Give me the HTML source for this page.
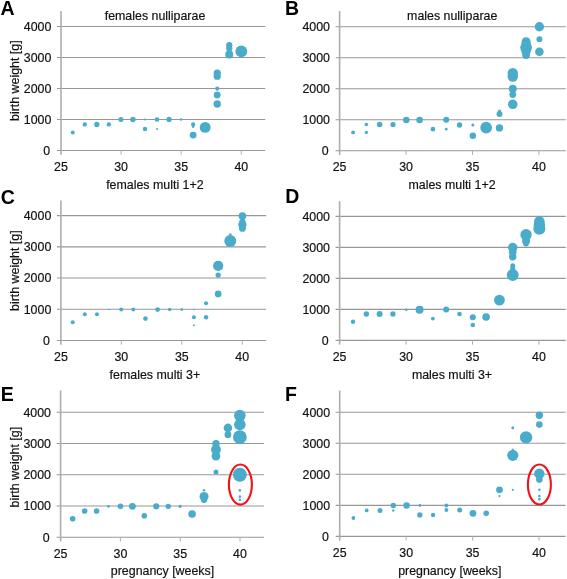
<!DOCTYPE html>
<html><head><meta charset="utf-8"><style>
html,body{margin:0;padding:0;background:#fff;width:567px;height:579px;overflow:hidden}
svg{display:block;will-change:transform}
.t{font-family:"Liberation Sans", sans-serif;font-size:12.4px;fill:#111;stroke:#111;stroke-width:0.18px}
.L{font-family:"Liberation Sans", sans-serif;font-size:19.5px;font-weight:bold;fill:#000}
</style></head><body>
<svg width="567" height="579" viewBox="0 0 567 579">
<rect width="100%" height="100%" fill="#fff"/>
<line x1="57.00" y1="150.45" x2="265.30" y2="150.45" stroke="#979797" stroke-width="1.1"/>
<line x1="57.00" y1="119.45" x2="265.30" y2="119.45" stroke="#979797" stroke-width="1.1"/>
<line x1="57.00" y1="88.45" x2="265.30" y2="88.45" stroke="#979797" stroke-width="1.1"/>
<line x1="57.00" y1="57.45" x2="265.30" y2="57.45" stroke="#979797" stroke-width="1.1"/>
<line x1="57.00" y1="26.45" x2="265.30" y2="26.45" stroke="#979797" stroke-width="1.1"/>
<line x1="61.00" y1="11.00" x2="61.00" y2="154.65" stroke="#adadad" stroke-width="1.6"/>
<line x1="121.10" y1="150.45" x2="121.10" y2="154.65" stroke="#b0b0b0" stroke-width="1"/>
<line x1="181.20" y1="150.45" x2="181.20" y2="154.65" stroke="#b0b0b0" stroke-width="1"/>
<line x1="241.30" y1="150.45" x2="241.30" y2="154.65" stroke="#b0b0b0" stroke-width="1"/>
<text x="50.10" y="154.75" text-anchor="end" class="t">0</text>
<text x="51.40" y="123.75" text-anchor="end" class="t">1000</text>
<text x="51.40" y="92.75" text-anchor="end" class="t">2000</text>
<text x="51.40" y="61.75" text-anchor="end" class="t">3000</text>
<text x="51.40" y="30.75" text-anchor="end" class="t">4000</text>
<text x="61.00" y="170.95" text-anchor="middle" class="t">25</text>
<text x="121.10" y="170.95" text-anchor="middle" class="t">30</text>
<text x="181.20" y="170.95" text-anchor="middle" class="t">35</text>
<text x="241.30" y="170.95" text-anchor="middle" class="t">40</text>
<text x="155.00" y="20.00" text-anchor="middle" class="t">females nulliparae</text>
<text x="0.46" y="14.70" class="L">A</text>
<circle cx="72.74" cy="132.47" r="2.00" fill="#4aabcb"/>
<circle cx="84.78" cy="124.41" r="2.20" fill="#4aabcb"/>
<circle cx="96.82" cy="124.41" r="2.60" fill="#4aabcb"/>
<circle cx="108.86" cy="124.41" r="2.20" fill="#4aabcb"/>
<circle cx="120.90" cy="119.45" r="2.50" fill="#4aabcb"/>
<circle cx="132.94" cy="119.45" r="2.70" fill="#4aabcb"/>
<circle cx="144.98" cy="119.45" r="1.00" fill="#4aabcb"/>
<circle cx="144.98" cy="129.06" r="2.20" fill="#4aabcb"/>
<circle cx="157.02" cy="119.45" r="2.30" fill="#4aabcb"/>
<circle cx="157.02" cy="129.06" r="1.00" fill="#4aabcb"/>
<circle cx="169.06" cy="119.45" r="2.60" fill="#4aabcb"/>
<circle cx="181.10" cy="119.45" r="1.30" fill="#4aabcb"/>
<circle cx="193.14" cy="124.41" r="2.15" fill="#4aabcb"/>
<circle cx="193.14" cy="126.73" r="1.20" fill="#4aabcb"/>
<circle cx="193.14" cy="135.10" r="3.45" fill="#4aabcb"/>
<circle cx="205.18" cy="127.39" r="5.45" fill="#4aabcb"/>
<circle cx="217.22" cy="73.01" r="3.60" fill="#4aabcb"/>
<circle cx="217.22" cy="76.17" r="3.60" fill="#4aabcb"/>
<circle cx="217.22" cy="88.60" r="2.10" fill="#4aabcb"/>
<circle cx="217.22" cy="94.99" r="3.40" fill="#4aabcb"/>
<circle cx="217.22" cy="104.01" r="3.70" fill="#4aabcb"/>
<circle cx="229.26" cy="45.20" r="3.10" fill="#4aabcb"/>
<circle cx="229.26" cy="48.46" r="3.10" fill="#4aabcb"/>
<circle cx="229.26" cy="54.60" r="4.00" fill="#4aabcb"/>
<circle cx="241.30" cy="51.40" r="5.90" fill="#4aabcb"/>
<line x1="335.60" y1="150.70" x2="565.80" y2="150.70" stroke="#979797" stroke-width="1.1"/>
<line x1="335.60" y1="119.70" x2="565.80" y2="119.70" stroke="#979797" stroke-width="1.1"/>
<line x1="335.60" y1="88.70" x2="565.80" y2="88.70" stroke="#979797" stroke-width="1.1"/>
<line x1="335.60" y1="57.70" x2="565.80" y2="57.70" stroke="#979797" stroke-width="1.1"/>
<line x1="335.60" y1="26.70" x2="565.80" y2="26.70" stroke="#979797" stroke-width="1.1"/>
<line x1="339.60" y1="11.00" x2="339.60" y2="154.90" stroke="#adadad" stroke-width="1.6"/>
<line x1="406.05" y1="150.70" x2="406.05" y2="154.90" stroke="#b0b0b0" stroke-width="1"/>
<line x1="472.50" y1="150.70" x2="472.50" y2="154.90" stroke="#b0b0b0" stroke-width="1"/>
<line x1="538.95" y1="150.70" x2="538.95" y2="154.90" stroke="#b0b0b0" stroke-width="1"/>
<text x="328.70" y="155.00" text-anchor="end" class="t">0</text>
<text x="330.00" y="124.00" text-anchor="end" class="t">1000</text>
<text x="330.00" y="93.00" text-anchor="end" class="t">2000</text>
<text x="330.00" y="62.00" text-anchor="end" class="t">3000</text>
<text x="330.00" y="31.00" text-anchor="end" class="t">4000</text>
<text x="339.60" y="171.20" text-anchor="middle" class="t">25</text>
<text x="406.05" y="171.20" text-anchor="middle" class="t">30</text>
<text x="472.50" y="171.20" text-anchor="middle" class="t">35</text>
<text x="538.95" y="171.20" text-anchor="middle" class="t">40</text>
<text x="452.20" y="20.00" text-anchor="middle" class="t">males nulliparae</text>
<text x="285.00" y="14.70" class="L">B</text>
<circle cx="353.06" cy="132.41" r="1.90" fill="#4aabcb"/>
<circle cx="366.37" cy="124.50" r="1.80" fill="#4aabcb"/>
<circle cx="366.37" cy="132.41" r="1.60" fill="#4aabcb"/>
<circle cx="379.68" cy="124.50" r="2.80" fill="#4aabcb"/>
<circle cx="392.99" cy="124.50" r="2.60" fill="#4aabcb"/>
<circle cx="406.30" cy="120.01" r="3.20" fill="#4aabcb"/>
<circle cx="419.61" cy="120.01" r="3.30" fill="#4aabcb"/>
<circle cx="432.92" cy="129.16" r="2.30" fill="#4aabcb"/>
<circle cx="446.23" cy="119.85" r="3.00" fill="#4aabcb"/>
<circle cx="446.23" cy="129.16" r="1.40" fill="#4aabcb"/>
<circle cx="459.54" cy="124.97" r="2.70" fill="#4aabcb"/>
<circle cx="472.85" cy="124.97" r="1.50" fill="#4aabcb"/>
<circle cx="472.85" cy="135.82" r="3.20" fill="#4aabcb"/>
<circle cx="486.16" cy="127.67" r="5.85" fill="#4aabcb"/>
<circle cx="499.47" cy="127.91" r="3.70" fill="#4aabcb"/>
<circle cx="499.47" cy="114.12" r="3.00" fill="#4aabcb"/>
<circle cx="499.47" cy="111.02" r="1.50" fill="#4aabcb"/>
<circle cx="512.78" cy="104.29" r="4.80" fill="#4aabcb"/>
<circle cx="512.78" cy="94.59" r="3.40" fill="#4aabcb"/>
<circle cx="512.78" cy="88.70" r="4.00" fill="#4aabcb"/>
<circle cx="512.78" cy="76.61" r="5.20" fill="#4aabcb"/>
<circle cx="512.78" cy="73.20" r="5.20" fill="#4aabcb"/>
<circle cx="526.09" cy="41.80" r="4.50" fill="#4aabcb"/>
<circle cx="526.09" cy="44.68" r="4.80" fill="#4aabcb"/>
<circle cx="526.09" cy="47.59" r="5.85" fill="#4aabcb"/>
<circle cx="526.09" cy="51.50" r="4.60" fill="#4aabcb"/>
<circle cx="526.09" cy="55.19" r="3.80" fill="#4aabcb"/>
<circle cx="539.40" cy="26.76" r="4.65" fill="#4aabcb"/>
<circle cx="539.40" cy="39.16" r="2.95" fill="#4aabcb"/>
<circle cx="539.40" cy="51.69" r="4.30" fill="#4aabcb"/>
<line x1="56.90" y1="340.45" x2="266.10" y2="340.45" stroke="#979797" stroke-width="1.1"/>
<line x1="56.90" y1="309.25" x2="266.10" y2="309.25" stroke="#979797" stroke-width="1.1"/>
<line x1="56.90" y1="278.05" x2="266.10" y2="278.05" stroke="#979797" stroke-width="1.1"/>
<line x1="56.90" y1="246.85" x2="266.10" y2="246.85" stroke="#979797" stroke-width="1.1"/>
<line x1="56.90" y1="215.65" x2="266.10" y2="215.65" stroke="#979797" stroke-width="1.1"/>
<line x1="60.90" y1="200.50" x2="60.90" y2="344.65" stroke="#adadad" stroke-width="1.6"/>
<line x1="121.35" y1="340.45" x2="121.35" y2="344.65" stroke="#b0b0b0" stroke-width="1"/>
<line x1="181.80" y1="340.45" x2="181.80" y2="344.65" stroke="#b0b0b0" stroke-width="1"/>
<line x1="242.25" y1="340.45" x2="242.25" y2="344.65" stroke="#b0b0b0" stroke-width="1"/>
<text x="50.00" y="344.75" text-anchor="end" class="t">0</text>
<text x="51.30" y="313.55" text-anchor="end" class="t">1000</text>
<text x="51.30" y="282.35" text-anchor="end" class="t">2000</text>
<text x="51.30" y="251.15" text-anchor="end" class="t">3000</text>
<text x="51.30" y="219.95" text-anchor="end" class="t">4000</text>
<text x="60.90" y="360.95" text-anchor="middle" class="t">25</text>
<text x="121.35" y="360.95" text-anchor="middle" class="t">30</text>
<text x="181.80" y="360.95" text-anchor="middle" class="t">35</text>
<text x="242.25" y="360.95" text-anchor="middle" class="t">40</text>
<text x="154.90" y="189.00" text-anchor="middle" class="t">females multi 1+2</text>
<text x="0.80" y="203.50" class="L">C</text>
<circle cx="72.72" cy="322.20" r="2.00" fill="#4aabcb"/>
<circle cx="84.84" cy="314.24" r="2.00" fill="#4aabcb"/>
<circle cx="96.96" cy="314.24" r="2.00" fill="#4aabcb"/>
<circle cx="109.08" cy="309.56" r="0.80" fill="#4aabcb"/>
<circle cx="121.20" cy="309.56" r="2.00" fill="#4aabcb"/>
<circle cx="133.32" cy="309.56" r="2.00" fill="#4aabcb"/>
<circle cx="145.44" cy="318.61" r="2.30" fill="#4aabcb"/>
<circle cx="157.56" cy="309.56" r="2.40" fill="#4aabcb"/>
<circle cx="169.68" cy="309.56" r="1.70" fill="#4aabcb"/>
<circle cx="181.80" cy="309.56" r="1.40" fill="#4aabcb"/>
<circle cx="193.92" cy="309.56" r="0.80" fill="#4aabcb"/>
<circle cx="193.92" cy="317.21" r="2.00" fill="#4aabcb"/>
<circle cx="193.92" cy="325.16" r="1.00" fill="#4aabcb"/>
<circle cx="206.04" cy="303.32" r="2.00" fill="#4aabcb"/>
<circle cx="206.04" cy="317.21" r="2.20" fill="#4aabcb"/>
<circle cx="218.16" cy="293.90" r="3.35" fill="#4aabcb"/>
<circle cx="218.16" cy="275.12" r="2.65" fill="#4aabcb"/>
<circle cx="218.16" cy="265.91" r="5.10" fill="#4aabcb"/>
<circle cx="230.28" cy="240.98" r="6.00" fill="#4aabcb"/>
<circle cx="230.28" cy="234.49" r="1.30" fill="#4aabcb"/>
<circle cx="242.40" cy="215.96" r="3.80" fill="#4aabcb"/>
<circle cx="242.40" cy="221.98" r="3.20" fill="#4aabcb"/>
<circle cx="242.40" cy="224.79" r="4.15" fill="#4aabcb"/>
<circle cx="242.40" cy="228.41" r="3.40" fill="#4aabcb"/>
<line x1="335.60" y1="340.40" x2="565.80" y2="340.40" stroke="#979797" stroke-width="1.1"/>
<line x1="335.60" y1="309.40" x2="565.80" y2="309.40" stroke="#979797" stroke-width="1.1"/>
<line x1="335.60" y1="278.40" x2="565.80" y2="278.40" stroke="#979797" stroke-width="1.1"/>
<line x1="335.60" y1="247.40" x2="565.80" y2="247.40" stroke="#979797" stroke-width="1.1"/>
<line x1="335.60" y1="216.40" x2="565.80" y2="216.40" stroke="#979797" stroke-width="1.1"/>
<line x1="339.60" y1="201.20" x2="339.60" y2="344.60" stroke="#adadad" stroke-width="1.6"/>
<line x1="406.05" y1="340.40" x2="406.05" y2="344.60" stroke="#b0b0b0" stroke-width="1"/>
<line x1="472.50" y1="340.40" x2="472.50" y2="344.60" stroke="#b0b0b0" stroke-width="1"/>
<line x1="538.95" y1="340.40" x2="538.95" y2="344.60" stroke="#b0b0b0" stroke-width="1"/>
<text x="328.70" y="344.70" text-anchor="end" class="t">0</text>
<text x="330.00" y="313.70" text-anchor="end" class="t">1000</text>
<text x="330.00" y="282.70" text-anchor="end" class="t">2000</text>
<text x="330.00" y="251.70" text-anchor="end" class="t">3000</text>
<text x="330.00" y="220.70" text-anchor="end" class="t">4000</text>
<text x="339.60" y="360.90" text-anchor="middle" class="t">25</text>
<text x="406.05" y="360.90" text-anchor="middle" class="t">30</text>
<text x="472.50" y="360.90" text-anchor="middle" class="t">35</text>
<text x="538.95" y="360.90" text-anchor="middle" class="t">40</text>
<text x="452.00" y="189.00" text-anchor="middle" class="t">males multi 1+2</text>
<text x="285.30" y="203.00" class="L">D</text>
<circle cx="353.01" cy="321.80" r="2.20" fill="#4aabcb"/>
<circle cx="366.32" cy="314.05" r="2.70" fill="#4aabcb"/>
<circle cx="379.63" cy="314.05" r="3.00" fill="#4aabcb"/>
<circle cx="392.94" cy="314.05" r="2.70" fill="#4aabcb"/>
<circle cx="406.25" cy="309.71" r="1.30" fill="#4aabcb"/>
<circle cx="419.56" cy="309.71" r="4.00" fill="#4aabcb"/>
<circle cx="432.87" cy="318.54" r="1.90" fill="#4aabcb"/>
<circle cx="446.18" cy="309.55" r="3.00" fill="#4aabcb"/>
<circle cx="459.49" cy="314.05" r="2.30" fill="#4aabcb"/>
<circle cx="472.80" cy="317.15" r="3.00" fill="#4aabcb"/>
<circle cx="472.80" cy="325.05" r="2.30" fill="#4aabcb"/>
<circle cx="486.11" cy="317.00" r="3.80" fill="#4aabcb"/>
<circle cx="499.42" cy="300.10" r="5.40" fill="#4aabcb"/>
<circle cx="512.73" cy="274.96" r="5.95" fill="#4aabcb"/>
<circle cx="512.73" cy="269.10" r="2.60" fill="#4aabcb"/>
<circle cx="512.73" cy="265.81" r="2.50" fill="#4aabcb"/>
<circle cx="512.73" cy="256.70" r="3.70" fill="#4aabcb"/>
<circle cx="512.73" cy="252.36" r="3.80" fill="#4aabcb"/>
<circle cx="512.73" cy="247.59" r="4.75" fill="#4aabcb"/>
<circle cx="526.04" cy="234.75" r="5.70" fill="#4aabcb"/>
<circle cx="526.04" cy="240.89" r="4.00" fill="#4aabcb"/>
<circle cx="526.04" cy="243.71" r="2.80" fill="#4aabcb"/>
<circle cx="539.35" cy="221.39" r="5.30" fill="#4aabcb"/>
<circle cx="539.35" cy="225.08" r="5.70" fill="#4aabcb"/>
<circle cx="539.35" cy="228.64" r="6.05" fill="#4aabcb"/>
<line x1="56.60" y1="537.30" x2="264.00" y2="537.30" stroke="#979797" stroke-width="1.1"/>
<line x1="56.60" y1="506.05" x2="264.00" y2="506.05" stroke="#979797" stroke-width="1.1"/>
<line x1="56.60" y1="474.80" x2="264.00" y2="474.80" stroke="#979797" stroke-width="1.1"/>
<line x1="56.60" y1="443.55" x2="264.00" y2="443.55" stroke="#979797" stroke-width="1.1"/>
<line x1="56.60" y1="412.30" x2="264.00" y2="412.30" stroke="#979797" stroke-width="1.1"/>
<line x1="60.60" y1="390.50" x2="60.60" y2="541.50" stroke="#adadad" stroke-width="1.6"/>
<line x1="120.40" y1="537.30" x2="120.40" y2="541.50" stroke="#b0b0b0" stroke-width="1"/>
<line x1="180.20" y1="537.30" x2="180.20" y2="541.50" stroke="#b0b0b0" stroke-width="1"/>
<line x1="240.00" y1="537.30" x2="240.00" y2="541.50" stroke="#b0b0b0" stroke-width="1"/>
<text x="49.70" y="541.60" text-anchor="end" class="t">0</text>
<text x="51.00" y="510.35" text-anchor="end" class="t">1000</text>
<text x="51.00" y="479.10" text-anchor="end" class="t">2000</text>
<text x="51.00" y="447.85" text-anchor="end" class="t">3000</text>
<text x="51.00" y="416.60" text-anchor="end" class="t">4000</text>
<text x="60.60" y="557.80" text-anchor="middle" class="t">25</text>
<text x="120.40" y="557.80" text-anchor="middle" class="t">30</text>
<text x="180.20" y="557.80" text-anchor="middle" class="t">35</text>
<text x="240.00" y="557.80" text-anchor="middle" class="t">40</text>
<text x="154.90" y="378.60" text-anchor="middle" class="t">females multi 3+</text>
<text x="0.70" y="400.60" class="L">E</text>
<circle cx="72.69" cy="518.71" r="2.80" fill="#4aabcb"/>
<circle cx="84.63" cy="511.05" r="2.80" fill="#4aabcb"/>
<circle cx="96.57" cy="511.05" r="2.80" fill="#4aabcb"/>
<circle cx="108.51" cy="506.36" r="1.40" fill="#4aabcb"/>
<circle cx="120.45" cy="506.36" r="2.80" fill="#4aabcb"/>
<circle cx="132.39" cy="506.36" r="3.40" fill="#4aabcb"/>
<circle cx="144.33" cy="515.74" r="2.80" fill="#4aabcb"/>
<circle cx="156.27" cy="506.36" r="3.10" fill="#4aabcb"/>
<circle cx="168.21" cy="506.36" r="2.70" fill="#4aabcb"/>
<circle cx="180.15" cy="506.36" r="1.60" fill="#4aabcb"/>
<circle cx="192.09" cy="514.02" r="3.80" fill="#4aabcb"/>
<circle cx="204.03" cy="496.49" r="4.50" fill="#4aabcb"/>
<circle cx="204.03" cy="499.80" r="3.20" fill="#4aabcb"/>
<circle cx="204.03" cy="490.30" r="1.20" fill="#4aabcb"/>
<circle cx="215.97" cy="471.99" r="2.50" fill="#4aabcb"/>
<circle cx="215.97" cy="456.05" r="4.40" fill="#4aabcb"/>
<circle cx="215.97" cy="449.80" r="4.90" fill="#4aabcb"/>
<circle cx="215.97" cy="443.71" r="3.70" fill="#4aabcb"/>
<circle cx="227.91" cy="427.92" r="4.30" fill="#4aabcb"/>
<circle cx="227.91" cy="434.71" r="3.40" fill="#4aabcb"/>
<circle cx="239.85" cy="415.61" r="5.80" fill="#4aabcb"/>
<circle cx="239.85" cy="424.49" r="5.80" fill="#4aabcb"/>
<circle cx="239.85" cy="437.11" r="6.90" fill="#4aabcb"/>
<circle cx="239.85" cy="474.80" r="7.00" fill="#4aabcb"/>
<circle cx="239.85" cy="490.42" r="1.30" fill="#4aabcb"/>
<circle cx="239.85" cy="496.67" r="1.30" fill="#4aabcb"/>
<circle cx="239.85" cy="499.80" r="1.30" fill="#4aabcb"/>
<ellipse cx="240.4" cy="484.6" rx="11.5" ry="20.05" fill="none" stroke="#f21218" stroke-width="2.1"/>
<line x1="335.70" y1="536.40" x2="565.60" y2="536.40" stroke="#979797" stroke-width="1.1"/>
<line x1="335.70" y1="505.35" x2="565.60" y2="505.35" stroke="#979797" stroke-width="1.1"/>
<line x1="335.70" y1="474.30" x2="565.60" y2="474.30" stroke="#979797" stroke-width="1.1"/>
<line x1="335.70" y1="443.25" x2="565.60" y2="443.25" stroke="#979797" stroke-width="1.1"/>
<line x1="335.70" y1="412.20" x2="565.60" y2="412.20" stroke="#979797" stroke-width="1.1"/>
<line x1="339.70" y1="390.50" x2="339.70" y2="540.60" stroke="#adadad" stroke-width="1.6"/>
<line x1="406.15" y1="536.40" x2="406.15" y2="540.60" stroke="#b0b0b0" stroke-width="1"/>
<line x1="472.60" y1="536.40" x2="472.60" y2="540.60" stroke="#b0b0b0" stroke-width="1"/>
<line x1="539.05" y1="536.40" x2="539.05" y2="540.60" stroke="#b0b0b0" stroke-width="1"/>
<text x="328.80" y="540.70" text-anchor="end" class="t">0</text>
<text x="330.10" y="509.65" text-anchor="end" class="t">1000</text>
<text x="330.10" y="478.60" text-anchor="end" class="t">2000</text>
<text x="330.10" y="447.55" text-anchor="end" class="t">3000</text>
<text x="330.10" y="416.50" text-anchor="end" class="t">4000</text>
<text x="339.70" y="556.90" text-anchor="middle" class="t">25</text>
<text x="406.15" y="556.90" text-anchor="middle" class="t">30</text>
<text x="472.60" y="556.90" text-anchor="middle" class="t">35</text>
<text x="539.05" y="556.90" text-anchor="middle" class="t">40</text>
<text x="452.00" y="378.60" text-anchor="middle" class="t">males multi 3+</text>
<text x="285.00" y="400.60" class="L">F</text>
<circle cx="353.43" cy="518.02" r="1.90" fill="#4aabcb"/>
<circle cx="366.71" cy="510.47" r="1.90" fill="#4aabcb"/>
<circle cx="379.99" cy="510.47" r="2.50" fill="#4aabcb"/>
<circle cx="393.27" cy="505.51" r="2.70" fill="#4aabcb"/>
<circle cx="393.27" cy="510.47" r="1.20" fill="#4aabcb"/>
<circle cx="406.55" cy="505.51" r="3.20" fill="#4aabcb"/>
<circle cx="419.83" cy="505.51" r="1.40" fill="#4aabcb"/>
<circle cx="419.83" cy="515.04" r="2.70" fill="#4aabcb"/>
<circle cx="433.11" cy="515.04" r="2.20" fill="#4aabcb"/>
<circle cx="446.39" cy="505.51" r="2.00" fill="#4aabcb"/>
<circle cx="446.39" cy="510.07" r="2.00" fill="#4aabcb"/>
<circle cx="459.67" cy="510.07" r="2.50" fill="#4aabcb"/>
<circle cx="472.95" cy="513.36" r="3.40" fill="#4aabcb"/>
<circle cx="486.23" cy="513.36" r="2.80" fill="#4aabcb"/>
<circle cx="499.51" cy="489.82" r="3.40" fill="#4aabcb"/>
<circle cx="499.51" cy="496.03" r="1.10" fill="#4aabcb"/>
<circle cx="512.79" cy="489.82" r="1.10" fill="#4aabcb"/>
<circle cx="512.79" cy="455.36" r="5.60" fill="#4aabcb"/>
<circle cx="512.79" cy="449.46" r="1.00" fill="#4aabcb"/>
<circle cx="512.79" cy="427.72" r="1.50" fill="#4aabcb"/>
<circle cx="526.07" cy="437.35" r="6.20" fill="#4aabcb"/>
<circle cx="539.35" cy="415.30" r="3.70" fill="#4aabcb"/>
<circle cx="539.35" cy="424.62" r="3.30" fill="#4aabcb"/>
<circle cx="539.35" cy="473.68" r="5.20" fill="#4aabcb"/>
<circle cx="539.35" cy="479.58" r="3.30" fill="#4aabcb"/>
<circle cx="539.35" cy="489.82" r="1.30" fill="#4aabcb"/>
<circle cx="539.35" cy="496.03" r="1.30" fill="#4aabcb"/>
<circle cx="539.35" cy="499.14" r="1.30" fill="#4aabcb"/>
<ellipse cx="539.4" cy="484.5" rx="11.5" ry="20.0" fill="none" stroke="#f21218" stroke-width="2.1"/>
<text transform="translate(18.60,80.70) rotate(-90)" text-anchor="middle" class="t">birth weight [g]</text>
<text transform="translate(18.60,270.70) rotate(-90)" text-anchor="middle" class="t">birth weight [g]</text>
<text transform="translate(18.60,467.20) rotate(-90)" text-anchor="middle" class="t">birth weight [g]</text>
<text x="162.5" y="574.5" text-anchor="middle" class="t">pregnancy [weeks]</text>
<text x="449.8" y="574.5" text-anchor="middle" class="t">pregnancy [weeks]</text>
</svg>
</body></html>
